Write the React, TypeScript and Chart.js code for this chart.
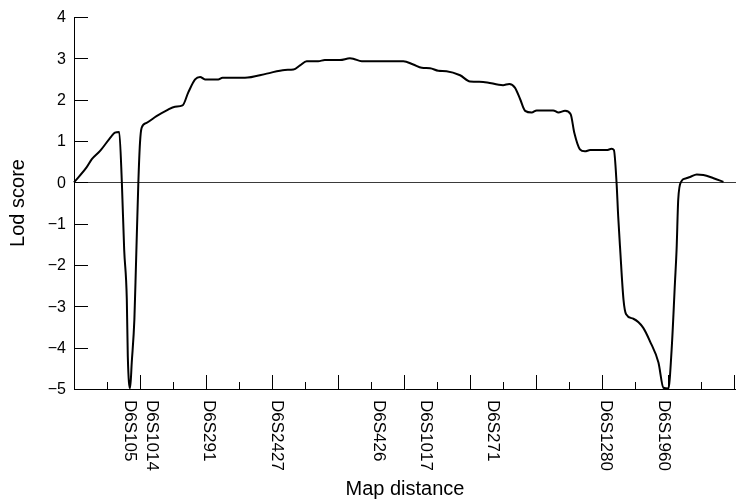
import { useEffect, useRef } from 'react';
import { Chart, registerables } from 'chart.js';

Chart.register(...registerables);

// Curve: map distance (axis units) vs. LOD score
const mapDistance = [
  0, 0.38, 0.54, 0.79, 1.14, 1.24, 1.37, 1.45, 1.52, 1.6, 1.63, 1.7, 1.75, 1.83, 1.88, 1.95,
  2.0, 2.05, 2.2, 2.5, 2.81, 3.06, 3.29, 3.46, 3.67, 3.82, 3.97, 4.37, 4.5, 5.18, 5.84, 6.39,
  6.65, 6.85, 7.05, 7.4, 7.6, 8.06, 8.36, 8.46, 8.72, 9.98, 10.28, 10.54, 10.79, 11.04, 11.29,
  11.7, 12.0, 12.4, 13.0, 13.19, 13.36, 13.52, 13.67, 13.87, 14.02, 14.52, 14.68, 14.88, 15.05,
  15.16, 15.33, 15.48, 15.64, 16.14, 16.29, 16.36, 16.44, 16.49, 16.55, 16.65, 16.73, 16.95,
  17.25, 17.45, 17.71, 17.86, 18.01, 18.11, 18.21, 18.26, 18.31, 18.41, 18.52, 18.67, 18.87,
  19.07, 19.38, 19.68,
];
const lodScore = [
  0, 0.36, 0.56, 0.76, 1.12, 1.2, 1.22, 0, -1.62, -2.83, -4.2, -4.98, -4.36, -3.31, -1.94, 0,
  0.96, 1.32, 1.44, 1.6, 1.74, 1.83, 1.86, 2.17, 2.49, 2.55, 2.49, 2.49, 2.53, 2.53, 2.63, 2.72,
  2.73, 2.83, 2.93, 2.93, 2.96, 2.96, 3.0, 2.99, 2.93, 2.93, 2.85, 2.77, 2.76, 2.7, 2.69,
  2.59, 2.44, 2.43, 2.35, 2.38, 2.29, 2.01, 1.73, 1.69, 1.74, 1.74, 1.69, 1.73, 1.65,
  1.2, 0.8, 0.75, 0.78, 0.78, 0.81, 0.78, 0.0, -0.82, -1.62, -2.83, -3.19, -3.3,
  -3.52, -3.84, -4.36, -4.97, -4.99, -4.04, -2.43, -1.62, -0.41, 0.03, 0.09, 0.13, 0.19,
  0.18, 0.1, 0.01,
];

// Marker labels along the x axis
const markerNames = ['D6S105', 'D6S1014', 'D6S291', 'D6S2427', 'D6S426', 'D6S1017', 'D6S271', 'D6S1280', 'D6S1960'];
const markerPositions = [1.7, 2.36, 4.09, 6.15, 9.24, 10.67, 12.7, 16.12, 17.88];

// Axes
const yTickValues = [-5, -4, -3, -2, -1, 0, 1, 2, 3, 4];
const xTickValues = [1, 2, 3, 4, 5, 6, 7, 8, 9, 10, 11, 12, 13, 14, 15, 16, 17, 18, 19, 20];
const X_MIN = 0;
const X_MAX = 20.06;
const Y_MIN = -5;
const Y_MAX = 4;
const yTitle = 'Lod score';
const xTitle = 'Map distance';

const FONT = '"Liberation Sans", Arial, Helvetica, sans-serif';

const fmt = (v: number) => (v < 0 ? '\u2212' + Math.abs(v) : String(v));

const decorPlugin = {
  id: 'decor',
  beforeDatasetsDraw(chart: any) {
    const { ctx, chartArea, scales } = chart;
    const y0 = Math.round(scales.y.getPixelForValue(0)) + 0.5;
    ctx.save();
    ctx.strokeStyle = '#3a3a3a';
    ctx.lineWidth = 1;
    ctx.beginPath();
    ctx.moveTo(chartArea.left, y0);
    ctx.lineTo(chart.width, y0);
    ctx.stroke();
    ctx.restore();
  },
  afterDraw(chart: any) {
    const { ctx, chartArea, scales } = chart;
    const xs = scales.x;
    const ys = scales.y;
    ctx.save();
    ctx.strokeStyle = '#000';
    ctx.lineWidth = 1;
    // y ticks (inward)
    ctx.beginPath();
    yTickValues.forEach((v) => {
      const py = Math.round(ys.getPixelForValue(v)) + 0.5;
      ctx.moveTo(chartArea.left, py);
      ctx.lineTo(chartArea.left + 14, py);
    });
    // x ticks (inward, long on even)
    xTickValues.forEach((v) => {
      const px = Math.round(xs.getPixelForValue(v)) + 0.5;
      const len = v % 2 === 0 ? 14 : 7;
      ctx.moveTo(px, chartArea.bottom);
      ctx.lineTo(px, chartArea.bottom - len);
    });
    ctx.stroke();

    // y tick labels
    ctx.fillStyle = '#000';
    ctx.font = `16px ${FONT}`;
    ctx.textAlign = 'right';
    ctx.textBaseline = 'middle';
    yTickValues.forEach((v) => {
      ctx.fillText(fmt(v), chartArea.left - 8, ys.getPixelForValue(v) + 1);
    });

    // marker labels, rotated clockwise
    ctx.font = `17px ${FONT}`;
    markerNames.forEach((name, i) => {
      const px = xs.getPixelForValue(markerPositions[i]);
      ctx.save();
      ctx.translate(px, chartArea.bottom + 11);
      ctx.rotate(Math.PI / 2);
      ctx.textAlign = 'left';
      ctx.textBaseline = 'middle';
      ctx.fillText(name, 0, 0);
      ctx.restore();
    });

    // axis titles
    ctx.font = `20px ${FONT}`;
    ctx.textAlign = 'center';
    ctx.textBaseline = 'middle';
    ctx.fillText(xTitle, (chartArea.left + chartArea.right) / 2, 489);
    ctx.save();
    ctx.translate(18, (chartArea.top + chartArea.bottom) / 2);
    ctx.rotate(-Math.PI / 2);
    ctx.fillText(yTitle, 0, 0);
    ctx.restore();
    ctx.restore();
  },
};

export default function App() {
  const ref = useRef<HTMLCanvasElement | null>(null);
  useEffect(() => {
    if (!ref.current) return;
    const data = mapDistance.map((x, i) => ({ x, y: lodScore[i] }));
    const chart = new Chart(ref.current, {
      type: 'line',
      data: {
        datasets: [
          {
            data,
            borderColor: '#000',
            borderWidth: 2,
            pointRadius: 0,
            fill: false,
            cubicInterpolationMode: 'monotone',
            clip: false as any,
          },
        ],
      },
      options: {
        animation: false,
        responsive: false,
        layout: { padding: { left: 74, top: 17, right: 0, bottom: 110 } },
        plugins: { legend: { display: false }, tooltip: { enabled: false } },
        scales: {
          x: {
            type: 'linear',
            min: X_MIN,
            max: X_MAX,
            ticks: { display: false },
            grid: { display: false, drawTicks: false },
            border: { display: true, color: '#000', width: 1 },
          },
          y: {
            type: 'linear',
            min: Y_MIN,
            max: Y_MAX,
            ticks: { display: false },
            grid: { display: false, drawTicks: false },
            border: { display: true, color: '#000', width: 1 },
          },
        },
      } as any,
      plugins: [decorPlugin],
    });
    return () => chart.destroy();
  }, []);
  return (
    <div style={{ position: 'absolute', left: 0, top: 0, width: 736, height: 499, background: '#fff' }}>
      <canvas ref={ref} width={736} height={499} />
    </div>
  );
}
